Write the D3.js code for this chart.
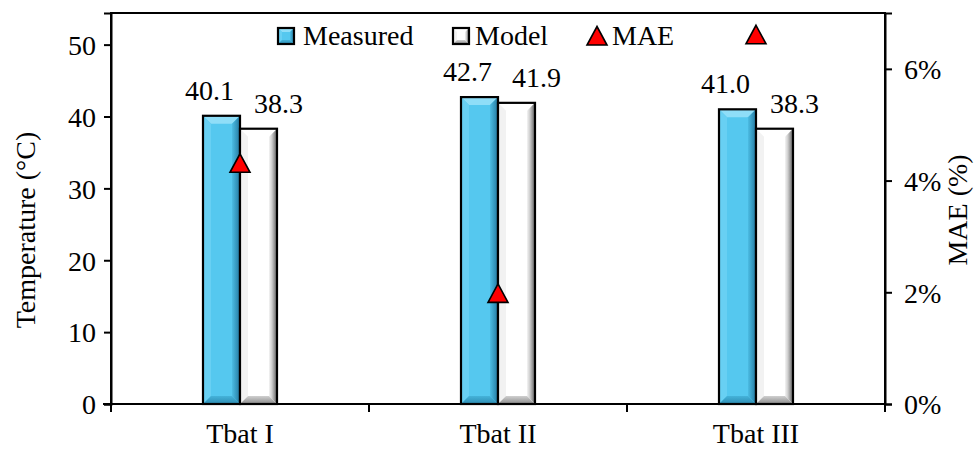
<!DOCTYPE html>
<html><head><meta charset="utf-8">
<script src="https://cdn.jsdelivr.net/npm/d3@7"></script>
<style>html,body{margin:0;padding:0;background:#fff;} svg{display:block;font-family:"Liberation Serif","Times New Roman",serif;}</style>
</head><body>
<script>
const categories = ["Tbat I", "Tbat II", "Tbat III"];
const seriesNames = ["Measured", "Model"];
const measured = [40.1, 42.7, 41.0];
const model = [38.3, 41.9, 38.3];
const mae = [0.0431, 0.0198, 0.0661];
const leftTicks = [0, 10, 20, 30, 40, 50];
const rightTicks = [0, 0.02, 0.04, 0.06];
const leftTitle = "Temperature (°C)";
const rightTitle = "MAE (%)";

const W = 980, H = 450;
const L = 111, R = 885, T = 13, B = 404;
const FS = 28;

const svg = d3.select("body").append("svg").attr("width", W).attr("height", H);
const defs = svg.append("defs");

function grad(id, stops, x2, y2) {
  const g = defs.append("linearGradient").attr("id", id).attr("x1", 0).attr("y1", 0).attr("x2", x2).attr("y2", y2);
  stops.forEach(s => g.append("stop").attr("offset", s[0]).attr("stop-color", s[1]));
}
grad("mRight", [[0, "#4cbde4"], [1, "#2479a0"]], 1, 0);
grad("mBottom", [[0, "#45b3da"], [1, "#2d8cb2"]], 0, 1);
grad("oRight", [[0, "#f4f4f4"], [0.35, "#cfcfcf"], [1, "#5e5e5e"]], 1, 0);
grad("oBottom", [[0, "#d0d0d0"], [1, "#8a8a8a"]], 0, 1);

const styles = {
  Measured: {face: "#55c8ef", top: "#8fdef8", left: "#68d0f3", right: "url(#mRight)", bottom: "url(#mBottom)"},
  Model: {face: "#ffffff", top: "#ffffff", left: "#f2f2f2", right: "url(#oRight)", bottom: "url(#oBottom)"}
};

const x = d3.scaleBand().domain(categories).range([L, R]).padding(0);
const xs = d3.scaleBand().domain(seriesNames).range([-37, 37]).padding(0);
const yL = d3.scaleLinear().domain([0, 54.4]).range([B, T]);
const yR = d3.scaleLinear().domain([0, 0.07]).range([B, T]);

function bevelBar(g, bx, by, bw, bh, st, b) {
  b = Math.min(b, bw / 2, bh / 2);
  g.append("rect").attr("x", bx).attr("y", by).attr("width", bw).attr("height", bh).attr("fill", st.face);
  const poly = (pts, fill) => g.append("polygon").attr("points", pts.map(p => p.join(",")).join(" ")).attr("fill", fill);
  poly([[bx, by], [bx + bw, by], [bx + bw - b, by + b], [bx + b, by + b]], st.top);
  poly([[bx, by], [bx + b, by + b], [bx + b, by + bh - b], [bx, by + bh]], st.left);
  poly([[bx + bw, by], [bx + bw, by + bh], [bx + bw - b, by + bh - b], [bx + bw - b, by + b]], st.right);
  poly([[bx, by + bh], [bx + bw, by + bh], [bx + bw - b, by + bh - b], [bx + b, by + bh - b]], st.bottom);
  g.append("rect").attr("x", bx).attr("y", by).attr("width", bw).attr("height", bh)
    .attr("fill", "none").attr("stroke", "#000").attr("stroke-width", 2.2);
}

// Plot frame
svg.append("path").attr("d", `M${L},${B}V${T}H${R}V${B}`).attr("fill", "none").attr("stroke", "#000").attr("stroke-width", 2);

// Bars
const barsG = svg.append("g");
const vals = {Measured: measured, Model: model};
categories.forEach((c, i) => {
  seriesNames.forEach(s => {
    const v = vals[s][i];
    const bx = x(c) + x.bandwidth() / 2 + xs(s);
    const by = yL(v);
    bevelBar(barsG, bx, by, xs.bandwidth(), yL(0) - by, styles[s], 8);
  });
});

// Data labels
const labelOffset = {Measured: -12, Model: 20};
categories.forEach((c, i) => {
  seriesNames.forEach(s => {
    const v = vals[s][i];
    svg.append("text")
      .attr("x", x(c) + x.bandwidth() / 2 + xs(s) + xs.bandwidth() / 2 + labelOffset[s])
      .attr("y", yL(v) - 16)
      .attr("text-anchor", "middle").attr("font-size", FS).attr("fill", "#000")
      .text(v.toFixed(1));
  });
});

// Axes
const axisStyle = g => {
  g.selectAll("path").attr("stroke", "#000").attr("stroke-width", 2);
  g.selectAll("line").attr("stroke", "#000").attr("stroke-width", 2);
  g.selectAll("text").attr("font-size", FS).attr("fill", "#000").attr("font-family", "Liberation Serif, Times New Roman, serif");
};
const gl = svg.append("g").attr("transform", `translate(${L},0)`)
  .call(d3.axisLeft(yL).tickValues(leftTicks).tickFormat(d3.format("d")).tickSize(7).tickPadding(8));
axisStyle(gl);
gl.selectAll("text").attr("dy", "0.35em");
const gr = svg.append("g").attr("transform", `translate(${R},0)`)
  .call(d3.axisRight(yR).tickValues(rightTicks).tickFormat(d3.format(".0%")).tickSize(7).tickPadding(12));
axisStyle(gr);
gr.selectAll("text").attr("dy", "0.35em");

// X axis line and ticks at category boundaries
svg.append("line").attr("x1", L - 8).attr("x2", R).attr("y1", B).attr("y2", B).attr("stroke", "#000").attr("stroke-width", 2);
const bounds = categories.map(c => x(c)).concat([x(categories[categories.length - 1]) + x.bandwidth()]);
svg.selectAll(".xt").data(bounds).enter().append("line")
  .attr("x1", d => d).attr("x2", d => d).attr("y1", B).attr("y2", B + 8).attr("stroke", "#000").attr("stroke-width", 2);
svg.selectAll(".xl").data(categories).enter().append("text")
  .attr("x", d => x(d) + x.bandwidth() / 2).attr("y", 443)
  .attr("text-anchor", "middle").attr("font-size", FS).text(d => d);

// MAE markers
const tri = (cx, cy) => `M${cx},${cy - 9.5}L${cx + 10},${cy + 9}L${cx - 10},${cy + 9}Z`;
svg.selectAll(".mae").data(mae).enter().append("path")
  .attr("d", (d, i) => tri(x(categories[i]) + x.bandwidth() / 2, yR(d)))
  .attr("fill", "#ff0000").attr("stroke", "#000").attr("stroke-width", 1.6).attr("stroke-linejoin", "miter");

// Axis titles
svg.append("text").attr("transform", `translate(35,230) rotate(-90)`).attr("text-anchor", "middle").attr("font-size", FS).text(leftTitle);
svg.append("text").attr("transform", `translate(967,210) rotate(-90)`).attr("text-anchor", "middle").attr("font-size", FS).text(rightTitle);

// Legend
const lg = svg.append("g");
const legendItems = [
  {name: "Measured", kind: "bar", sx: 278, tx: 303},
  {name: "Model", kind: "bar", sx: 453, tx: 475},
  {name: "MAE", kind: "tri", sx: 588, tx: 612}
];
legendItems.forEach(it => {
  if (it.kind === "bar") {
    bevelBar(lg, it.sx, 28, 16, 16, styles[it.name], 4);
  } else {
    lg.append("path").attr("d", tri(it.sx + 9, 36)).attr("fill", "#ff0000").attr("stroke", "#000").attr("stroke-width", 1.6);
  }
  lg.append("text").attr("x", it.tx).attr("y", 45).attr("font-size", FS).text(it.name);
});
</script>
</body></html>
